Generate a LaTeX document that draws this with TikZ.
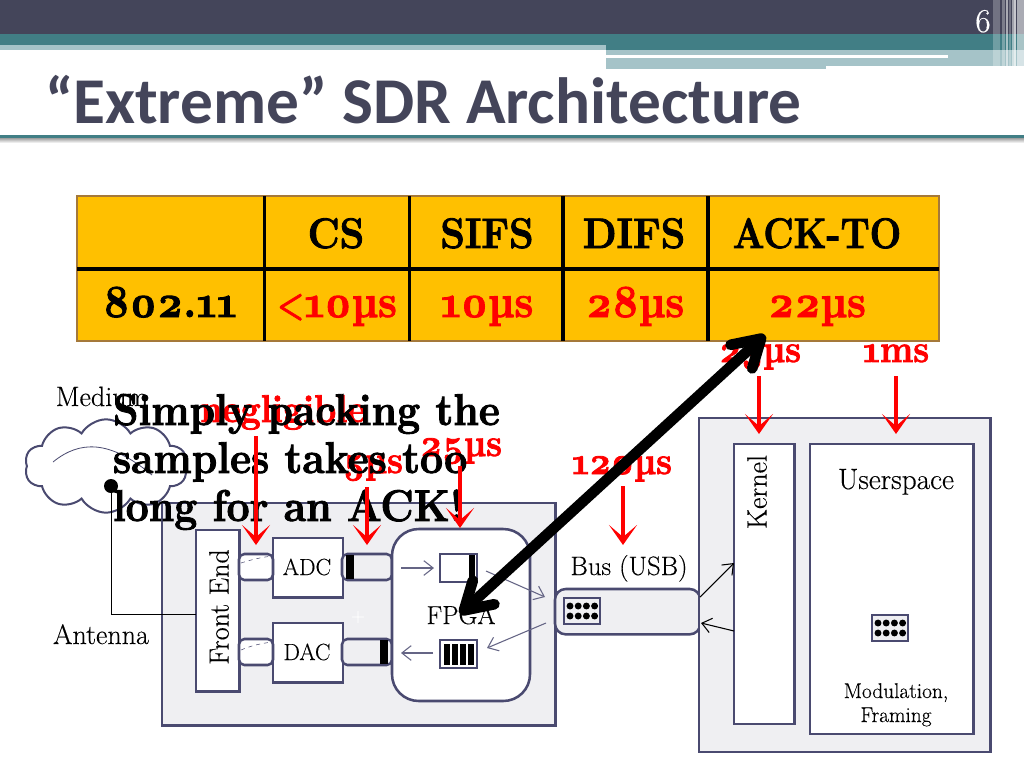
\documentclass[tikz,border=0pt]{standalone}
\usepackage{fontspec}
\setmainfont{Latin Modern Roman}[Numbers=OldStyle,FakeBold=0.3,BoldFeatures={FakeBold=2.0,FakeStretch=0.92}]
\newfontfamily\titlefont{Carlito}
\usetikzlibrary{arrows.meta,shapes.symbols}
\definecolor{slate}{HTML}{44455A}
\definecolor{teal1}{HTML}{417E85}
\definecolor{teal2}{HTML}{A5C3C8}
\definecolor{edge}{HTML}{4A4A70}
\definecolor{panel}{HTML}{EFEFF2}
\definecolor{gold}{HTML}{FFC000}
\definecolor{goldedge}{HTML}{A5793A}
\tikzset{
  x=0.75pt,y=-0.75pt,
  lbl/.style={inner sep=0pt,outer sep=0pt,anchor=base},
  hd/.style={lbl,font=\fontsize{32}{32}\selectfont\bfseries,text=black},
  hv/.style={lbl,font=\fontsize{34.5}{34.5}\selectfont\bfseries,text=red},
  rd/.style={lbl,font=\fontsize{29}{29}\selectfont\bfseries,text=red},
  big/.style={lbl,anchor=base west,font=\fontsize{33.3}{33.3}\selectfont\bfseries,text=black},
  dg/.style={lbl,font=\fontsize{21}{21}\selectfont,text=black},
  dgm/.style={lbl,font=\fontsize{17.5}{17.5}\selectfont,text=black},
  dgs/.style={lbl,font=\fontsize{16}{16}\selectfont,text=black},
  box/.style={draw=edge,line width=1.9pt,fill=white,outer sep=0pt},
  pan/.style={draw=edge,line width=1.9pt,fill=panel,outer sep=0pt},
  redarrow/.style={draw=red,line width=2.7pt,-{Stealth[length=15pt,width=21pt,inset=9pt]}},
  thinarrow/.style={draw=#1,line width=0.8pt,-{Straight Barb[length=7pt,width=11pt]}},
  bar/.style={fill=black,draw=none},
  gdot/.style={circle,fill=black,inner sep=0pt,minimum size=5.2pt}
}
\newcommand{\dotgrid}[4]{% name, x, y, fill
  \node[draw=edge,line width=1.5pt,fill=#4,minimum width=27.5pt,minimum height=20pt,inner sep=0pt,outer sep=0pt,anchor=center] (#1) at (#2,#3) {};
  \foreach \i in {0,1,2,3}{\node[gdot] at (#2-12+\i*8.2,#3-5) {};\node[gdot] at (#2-12+\i*8.2,#3+5) {};}
}
\begin{document}
\begin{tikzpicture}
\useasboundingbox (0,0) rectangle (1024,768);
\fill[white] (0,0) rectangle (1024,768);
% header
\fill[slate] (0,0) rectangle (1024,34);
\fill[teal1] (0,34) rectangle (1024,45);
\fill[teal2] (0,45) rectangle (606,50);
\fill[teal1] (606,45) rectangle (1024,50);
\fill[teal2] (606,50) rectangle (1024,66);
\fill[white] (606,55) rectangle (948,58);
\fill[teal2] (606,58) rectangle (826,69);
\foreach \xa/\xb/\op in {993/1000/.25,1002/1005/.3,1006/1008/.55,1009/1011/.25,1012/1014/.5,1014/1016/.7,1017/1024/.55}{
  \fill[white,opacity=\op] (\xa,0) rectangle (\xb,68);
}
\node[lbl,font=\fontsize{25}{25}\selectfont,text=white] (num) at (983,32) {6};
\node[lbl,anchor=base west,font=\titlefont\fontsize{49}{49}\selectfont\bfseries,text=slate] (title) at (45,123) {“Extreme” SDR Architecture};
\shade[top color=black!45,bottom color=white] (0,137) rectangle (1024,143);
\fill[teal1] (0,134.5) rectangle (1024,138);
% table
\fill[gold,draw=goldedge,line width=1.2pt] (77,196) rectangle (939,341);
\draw[black,line width=2.7pt] (77,269) -- (939,269);
\foreach \x in {264.5,409.5,563,708}{\draw[black,line width=2.5pt] (\x,196) -- (\x,341);}
\node[hd] (tcs) at (336,248) {CS};
\node[hd] (tsifs) at (487,248) {SIFS};
\node[hd] (tdifs) at (634,248) {DIFS};
\node[hd] (tack) at (817,248) {\scalebox{.95}[1]{ACK-TO}};
\node[hv,text=black] (t802) at (170,317) {802.11};
\node[hv] (v1) at (337,317) {\scalebox{.72}[.85]{<}10µs};
\node[hv] (v2) at (487,317) {10µs};
\node[hv] (v3) at (635,317) {28µs};
\node[hv] (v4) at (817,317) {22µs};
% medium
\node[cloud,cloud puffs=10,cloud puff arc=120,aspect=1.7,draw=edge,line width=1.5pt,minimum width=122pt,minimum height=70pt,inner sep=0pt] (cloud) at (106,466) {};
\coordinate (ca) at (53,462); \coordinate (cb) at (152,475);
\draw[edge,line width=0.6pt] (ca) .. controls (80,440) and (110,440) .. (cb);
\node[dg] (medium) at (102,406) {Medium};
\node[dg] (antenna) at (101,644) {Antenna};
% left board
\node[pan,minimum width=295pt,minimum height=167pt,inner sep=0pt,anchor=north west] (board) at (162,503) {};
\node[box,minimum width=32.7pt,minimum height=121pt,inner sep=0pt,anchor=north west] (fe) at (196,530) {};
\node[dg,rotate=90,anchor=center] (felbl) at (219,607) {Front End};
\node[box,minimum width=52.5pt,minimum height=44.5pt,inner sep=0pt,anchor=north west] (adc) at (273,538) {};
\node[dgm] (adclbl) at (307,575) {ADC};
\node[box,minimum width=52.5pt,minimum height=44.5pt,inner sep=0pt,anchor=north west] (dac) at (273,623) {};
\node[dgm] (daclbl) at (307,660) {DAC};
\draw[box,rounded corners=4pt] (239,554) rectangle (273,580);
\draw[box,rounded corners=4pt] (239,639) rectangle (273,665);
\draw[edge,line width=0.4pt,dashed] (241,563) .. controls (250,560) and (262,557) .. (273,556);
\draw[edge,line width=0.4pt,dashed] (241,650) .. controls (250,646) and (262,643) .. (273,642);
\draw[pan,rounded corners=4pt] (342,554) rectangle (392,580);
\fill[bar] (346,555) rectangle (354,579);
\draw[pan,rounded corners=4pt] (342,639) rectangle (392,665);
\fill[bar] (380,640) rectangle (388,664);
\node[white,font=\fontsize{14}{14}\selectfont] (plus) at (358,617) {+};
\node[box,rounded corners=20pt,minimum width=103.5pt,minimum height=129pt,inner sep=0pt,anchor=north west] (fpga) at (392,529) {};
\node[lbl,font=\fontsize{19.5}{19.5}\selectfont] (fpgalbl) at (461,624) {FPGA};
\node[draw=edge,line width=1.5pt,fill=white,minimum width=28pt,minimum height=21pt,inner sep=0pt,outer sep=0pt,anchor=north west] (bufa) at (440,554) {};
\fill[bar] (469,555) rectangle (475,581);
\node[draw=edge,line width=1.5pt,fill=white,minimum width=28pt,minimum height=21pt,inner sep=0pt,outer sep=0pt,anchor=north west] (bufb) at (440,640) {};
\foreach \x in {444,452,460,468}{\fill[bar] (\x,644) rectangle (\x+6,665);}
% bus
\node[pan,rounded corners=8pt,minimum width=109pt,minimum height=34pt,inner sep=0pt,anchor=north west] (bus) at (555,589) {};
\node[lbl,font=\fontsize{20}{20}\selectfont] (buslbl) at (629,575) {Bus (USB)};
\dotgrid{gridbus}{582}{611}{panel}
% right board
\node[pan,minimum width=218.5pt,minimum height=250.5pt,inner sep=0pt,anchor=north west] (host) at (699,418) {};
\node[box,minimum width=45.5pt,minimum height=210pt,inner sep=0pt,anchor=north west] (kernel) at (734,444) {};
\node[dg,rotate=90,anchor=center] (kernellbl) at (757,492) {Kernel};
\node[box,minimum width=122.5pt,minimum height=217.5pt,inner sep=0pt,anchor=north west] (user) at (810,444) {};
\node[lbl,font=\fontsize{22}{22}\selectfont] (userlbl) at (896,489) {Userspace};
\dotgrid{griduser}{890}{628}{panel}
\node[dgs] (mod1) at (896,698) {Modulation,};
\node[dgs] (mod2) at (896,722) {Framing};
% thin arrows
\coordinate (a1s) at (401,568); \coordinate (a1e) at (434,568);
\coordinate (a2s) at (486,571); \coordinate (a2e) at (545,597);
\coordinate (a3s) at (546,623); \coordinate (a3e) at (487,648);
\coordinate (a4s) at (433,653); \coordinate (a4e) at (401,653);
\coordinate (k1s) at (700,597); \coordinate (k1e) at (734,563);
\coordinate (k2s) at (734,631); \coordinate (k2e) at (701,623);
\draw[thinarrow=edge!85] (a1s) -- (a1e);
\draw[thinarrow=edge!85] (a2s) -- (a2e);
\draw[thinarrow=edge!85] (a3s) -- (a3e);
\draw[thinarrow=edge!85] (a4s) -- (a4e);
\draw[thinarrow=black] (k1s) -- (k1e);
\draw[thinarrow=black] (k2s) -- (k2e);
% antenna
\node[circle,fill=black,minimum size=10.5pt,inner sep=0pt] (ant) at (111,486) {};
\coordinate (feport) at (196,614);
\draw[black,line width=0.7pt] (ant.center) |- (feport);
% red labels
\node[rd] (neg) at (283,422) {negligible};
\node[rd] (r25) at (461,456) {25µs};
\node[rd] (r5) at (373,473) {5µs};
\node[rd] (r120) at (622,474) {120µs};
\node[rd] (r2x) at (760,362) {25µs};
\node[rd] (r1ms) at (896,362) {1ms};
% overlay text
\node[big] (s1) at (113,425) {Simply packing the};
\node[big] (s2) at (113,473) {samples takes too};
\node[big] (s3) at (113,521) {long for an ACK!};
% red arrows
\coordinate (ra1) at (256,436); \coordinate (rb1) at (256,545);
\coordinate (ra2) at (367,487); \coordinate (rb2) at (367,545);
\coordinate (ra3) at (460,466); \coordinate (rb3) at (460,528);
\coordinate (ra4) at (623,486); \coordinate (rb4) at (623,545);
\coordinate (ra5) at (759,376); \coordinate (rb5) at (759,434);
\coordinate (ra6) at (896,376); \coordinate (rb6) at (896,434);
\foreach \i in {1,...,6}{\draw[redarrow] (ra\i) -- (rb\i);}
% big arrow
\coordinate (bigA) at (460,614); \coordinate (bigB) at (765,335);
\draw[black,line width=8pt,{Straight Barb[round,length=20pt,width=24pt]}-{Straight Barb[round,length=20pt,width=24pt]}] (bigA) -- (bigB);
\end{tikzpicture}
\end{document}
